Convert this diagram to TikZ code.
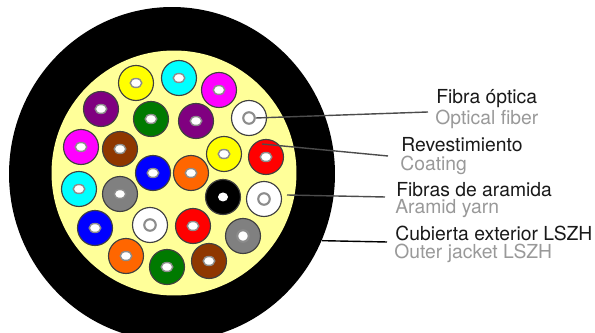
\documentclass[tikz,border=0pt]{standalone}
\usepackage{fontspec}
\setmainfont{TeX Gyre Heros}
\usepackage{tikz}
\usetikzlibrary{shapes.geometric}
\definecolor{relleno}{HTML}{FFFF99}
\definecolor{amarillo}{HTML}{FFFF00}
\definecolor{celeste}{HTML}{00FFFF}
\definecolor{fucsia}{HTML}{FF00FF}
\definecolor{azul}{HTML}{0000FF}
\definecolor{rojo}{HTML}{FF0000}
\definecolor{naranja}{HTML}{FF6600}
\definecolor{marron}{HTML}{8F3700}
\definecolor{verde}{HTML}{007A00}
\definecolor{morado}{HTML}{800080}
\definecolor{gris}{HTML}{808080}

\begin{document}
\begin{tikzpicture}[
      x=0.02cm, y=-0.02cm,
      fibra/.style={
        circle, draw=black!75, line width=0.65pt,
        minimum size=0.70cm, inner sep=0pt
      },
      nucleo/.style={
        ellipse, draw=black!45, fill=white, line width=0.8pt,
        minimum width=0.23cm, minimum height=0.18cm, inner sep=0pt
      },
      anillo/.style={
        circle, draw=black!45, fill=white, line width=1.2pt,
        minimum size=0.23cm, inner sep=0pt
      },
      titulo/.style={
        font=\fontsize{11}{13}\selectfont, text=black!90,
        anchor=west, inner sep=0pt
      },
      subtitulo/.style={
        font=\fontsize{11}{13}\selectfont, text=black!40,
        anchor=west, inner sep=0pt
      },
      guia/.style={
        line width=0.8pt, draw=black!70
      }
    ]
    \useasboundingbox (0,0) rectangle (595,333);

    % --- Cable ---
    \begin{scope}
      \clip (0,0) rectangle (595,333);
      \node[ellipse, fill=black, minimum width=6.52cm, minimum height=6.68cm, inner sep=0pt] (jacket) at (172,174) {};
    \end{scope}
    \node[circle, fill=relleno, minimum size=4.90cm, inner sep=0pt] (coat) at (174,173) {};

    % --- Fibers ---
    \node[fibra, fill=amarillo] (f1)  at (136,83)  {}; \node[nucleo] (h1)  at (f1)  {};
    \node[fibra, fill=celeste]  (f2)  at (179,78)  {}; \node[nucleo] (h2)  at (f2)  {};
    \node[fibra, fill=fucsia]   (f3)  at (219,90)  {}; \node[nucleo] (h3)  at (f3)  {};
    \node[fibra, fill=morado]   (f4)  at (101,109) {}; \node[nucleo] (h4)  at (f4)  {};
    \node[fibra, fill=verde]    (f5)  at (151,119) {}; \node[nucleo] (h5)  at (f5)  {};
    \node[fibra, fill=morado]   (f6)  at (196,121) {}; \node[nucleo] (h6)  at (f6)  {};
    \node[fibra, fill=white]    (f7)  at (249,118) {}; \node[anillo] (h7)  at (f7)  {};
    \node[fibra, fill=fucsia]   (f8)  at (81,147)  {}; \node[nucleo] (h8)  at (f8)  {};
    \node[fibra, fill=marron]   (f9)  at (120,149) {}; \node[nucleo] (h9)  at (f9)  {};
    \node[fibra, fill=amarillo] (f10) at (224,154) {}; \node[nucleo] (h10) at (f10) {};
    \node[fibra, fill=rojo]     (f11) at (266,157) {}; \node[nucleo] (h11) at (f11) {};
    \node[fibra, fill=azul]     (f12) at (153,173) {}; \node[nucleo] (h12) at (f12) {};
    \node[fibra, fill=naranja]  (f13) at (191,173) {}; \node[nucleo] (h13) at (f13) {};
    \node[fibra, fill=celeste]  (f14) at (79,189)  {}; \node[nucleo] (h14) at (f14) {};
    \node[fibra, fill=gris]     (f15) at (120,194) {}; \node[nucleo] (h15) at (f15) {};
    \node[fibra, fill=black]    (f16) at (223,197) {}; \node[nucleo, draw=none, minimum width=0.20cm, minimum height=0.18cm] (h16) at (f16) {};
    \node[fibra, fill=white]    (f17) at (264,199) {}; \node[anillo] (h17) at (f17) {};
    \node[fibra, fill=azul]     (f18) at (95,228)  {}; \node[nucleo] (h18) at (f18) {};
    \node[fibra, fill=white]    (f19) at (150,225) {}; \node[anillo] (h19) at (f19) {};
    \node[fibra, fill=rojo]     (f20) at (193,226) {}; \node[nucleo] (h20) at (f20) {};
    \node[fibra, fill=gris]     (f21) at (243,236) {}; \node[anillo] (h21) at (f21) {};
    \node[fibra, fill=naranja]  (f22) at (126,256) {}; \node[nucleo] (h22) at (f22) {};
    \node[fibra, fill=verde]    (f23) at (167,267) {}; \node[nucleo] (h23) at (f23) {};
    \node[fibra, fill=marron]   (f24) at (209,261) {}; \node[nucleo] (h24) at (f24) {};

    % --- Labels ---
    \node[titulo]    (t1) at (436,99)  {Fibra óptica};
    \node[subtitulo] (s1) at (435,119) {Optical fiber};
    \node[titulo]    (t2) at (401,145) {Revestimiento};
    \node[subtitulo] (s2) at (400,165) {Coating};
    \node[titulo]    (t3) at (396,190) {Fibras de aramida};
    \node[subtitulo] (s3) at (395,209) {Aramid yarn};
    \node[titulo]    (t4) at (395,233) {Cubierta exterior LSZH};
    \node[subtitulo] (s4) at (394,253) {Outer jacket LSZH};

    % --- Leaders ---
    \coordinate (e1) at (428,112);
    \coordinate (b2) at (262,144);
    \coordinate (e2) at (388,156);
    \coordinate (b3) at (287,195);
    \coordinate (e3) at (385,197);
    \coordinate (e4) at (387,242);
    \draw[guia] (h7.east) -- (e1);
    \draw[guia] (b2) -- (e2);
    \draw[guia] (b3) -- (e3);
    \draw[guia, draw=black] (jacket.-24) -- (e4);

  \end{tikzpicture}
\end{document}
